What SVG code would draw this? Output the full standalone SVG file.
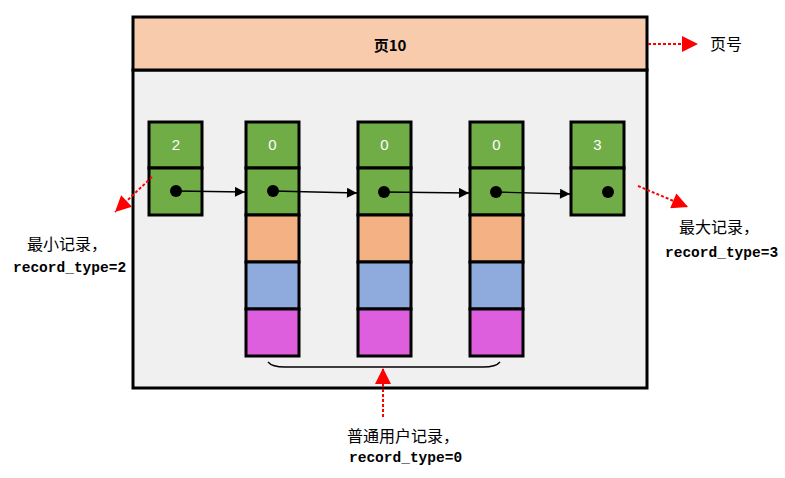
<svg xmlns="http://www.w3.org/2000/svg" width="785" height="478" viewBox="0 0 785 478">
<defs>
<marker id="ab" viewBox="0 0 10 10" refX="10" refY="5" markerWidth="15" markerHeight="10" markerUnits="userSpaceOnUse" orient="auto"><path d="M0,0 L10,5 L0,10 z" fill="#000"/></marker>
<marker id="ar" viewBox="0 0 10 10" refX="10" refY="5" markerWidth="18" markerHeight="16" markerUnits="userSpaceOnUse" orient="auto"><path d="M0,0 L10,5 L0,10 z" fill="#FF0000"/></marker>
<style>
.cell{stroke:#000;stroke-width:3}
.g{fill:#70AD47}.o{fill:#F4B183}.b{fill:#8FAADC}.p{fill:#DD5FDD}
.num{font-family:"Liberation Sans","DejaVu Sans",sans-serif;font-size:15px;fill:#fff;text-anchor:middle}
.cn{font-family:"Noto Sans CJK SC",sans-serif;font-size:16px;fill:#000}
.mono{font-family:"Liberation Mono","DejaVu Sans Mono",monospace;font-size:14.5px;font-weight:bold;fill:#000}
.blk{stroke:#000;stroke-width:1.3;fill:none}
.red{stroke:#FF0000;stroke-width:2;stroke-dasharray:3,2;fill:none}
</style>
</defs>
<rect width="785" height="478" fill="#fff"/>
<g id="page">
<rect x="133" y="70" width="514" height="318" fill="#F0F0F0" stroke="#000" stroke-width="3"/>
<rect x="133" y="17" width="514" height="53" fill="#F8CBAD" stroke="#000" stroke-width="3"/>
<text x="390" y="51" font-family="Noto Sans CJK SC,sans-serif" font-size="15" font-weight="bold" text-anchor="middle">页10</text>
</g>
<g id="rec-min">
<rect class="cell g" x="149" y="122" width="53" height="46"/>
<rect class="cell g" x="149" y="168" width="53" height="47"/>
<text class="num" x="176" y="150">2</text>
<circle cx="176" cy="191" r="6" fill="#000"/>
</g>
<g id="rec-1">
<rect class="cell g" x="246" y="122" width="53" height="46"/>
<rect class="cell g" x="246" y="168" width="53" height="47"/>
<rect class="cell o" x="246" y="215" width="53" height="47"/>
<rect class="cell b" x="246" y="262" width="53" height="47"/>
<rect class="cell p" x="246" y="309" width="53" height="47"/>
<text class="num" x="272.5" y="150">0</text>
<circle cx="273" cy="191" r="6" fill="#000"/>
</g>
<g id="rec-2">
<rect class="cell g" x="358" y="122" width="53" height="46"/>
<rect class="cell g" x="358" y="168" width="53" height="47"/>
<rect class="cell o" x="358" y="215" width="53" height="47"/>
<rect class="cell b" x="358" y="262" width="53" height="47"/>
<rect class="cell p" x="358" y="309" width="53" height="47"/>
<text class="num" x="384.5" y="150">0</text>
<circle cx="384" cy="192" r="6" fill="#000"/>
</g>
<g id="rec-3">
<rect class="cell g" x="470" y="122" width="53" height="46"/>
<rect class="cell g" x="470" y="168" width="53" height="47"/>
<rect class="cell o" x="470" y="215" width="53" height="47"/>
<rect class="cell b" x="470" y="262" width="53" height="47"/>
<rect class="cell p" x="470" y="309" width="53" height="47"/>
<text class="num" x="496.5" y="150">0</text>
<circle cx="496" cy="192" r="6" fill="#000"/>
</g>
<g id="rec-max">
<rect class="cell g" x="571" y="122" width="53" height="46"/>
<rect class="cell g" x="571" y="168" width="53" height="47"/>
<text class="num" x="597.5" y="150">3</text>
<circle cx="608" cy="192" r="6" fill="#000"/>
</g>
<g id="connectors">
<line class="blk" x1="176" y1="191" x2="245" y2="192" marker-end="url(#ab)"/>
<line class="blk" x1="273" y1="191" x2="357" y2="193" marker-end="url(#ab)"/>
<line class="blk" x1="384" y1="192" x2="469" y2="193" marker-end="url(#ab)"/>
<line class="blk" x1="496" y1="192" x2="570" y2="194" marker-end="url(#ab)"/>
<path class="blk" d="M268,362 Q272,367 285,367 L483,367 Q496,367 500,362" stroke-width="1"/>
<line class="red" x1="383" y1="417" x2="383" y2="368" marker-end="url(#ar)"/>
<line class="red" x1="152" y1="177" x2="115" y2="212" marker-end="url(#ar)"/>
<line class="red" x1="638" y1="186" x2="688" y2="207" marker-end="url(#ar)"/>
<line class="red" x1="648" y1="44" x2="698" y2="44" marker-end="url(#ar)"/>
</g>
<g id="labels">
<text class="cn" x="710" y="50">页号</text>
<text class="cn" x="27" y="250">最小记录，</text>
<text class="mono" x="13" y="272">record_type=2</text>
<text class="cn" x="679" y="233">最大记录，</text>
<text class="mono" x="665" y="257">record_type=3</text>
<text class="cn" x="347" y="442">普通用户记录，</text>
<text class="mono" x="349" y="462">record_type=0</text>
</g>
</svg>
